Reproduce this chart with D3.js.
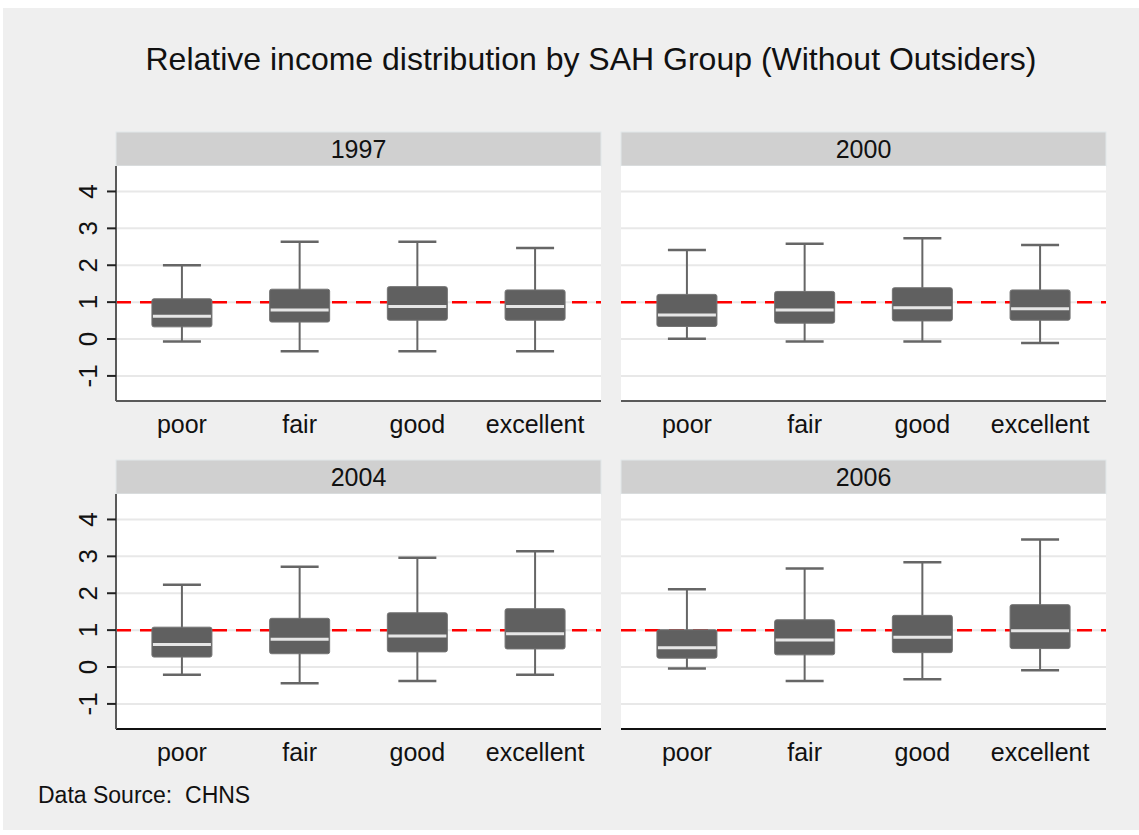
<!DOCTYPE html>
<html>
<head>
<meta charset="utf-8">
<script src="https://d3js.org/d3.v7.min.js"></script>
<style>
  body { margin: 0; background: #fff; }
  svg { display: block; font-family: "Liberation Sans", Arial, sans-serif; }
</style>
</head>
<body>
<svg id="chart" width="1139" height="835"></svg>
<script>
// panels and groups
const years = ["1997", "2000", "2004", "2006"];
const groups = ["poor", "fair", "good", "excellent"];

// box stats, one row per year, one value per group
const whiskerLow = [
  [-0.07, -0.33, -0.33, -0.33],
  [0.01, -0.07, -0.07, -0.11],
  [-0.21, -0.44, -0.38, -0.21],
  [-0.04, -0.38, -0.33, -0.09]
];
const q1 = [
  [0.33, 0.46, 0.51, 0.51],
  [0.34, 0.43, 0.49, 0.51],
  [0.27, 0.36, 0.41, 0.49],
  [0.24, 0.33, 0.39, 0.50]
];
const median = [
  [0.62, 0.79, 0.88, 0.88],
  [0.65, 0.79, 0.85, 0.82],
  [0.61, 0.75, 0.84, 0.90],
  [0.52, 0.73, 0.81, 0.98]
];
const q3 = [
  [1.09, 1.35, 1.42, 1.33],
  [1.21, 1.29, 1.39, 1.33],
  [1.08, 1.32, 1.47, 1.58],
  [1.01, 1.28, 1.40, 1.69]
];
const whiskerHigh = [
  [2.00, 2.64, 2.64, 2.47],
  [2.41, 2.58, 2.73, 2.55],
  [2.23, 2.72, 2.96, 3.14],
  [2.11, 2.67, 2.84, 3.46]
];
const yTicks = [-1, 0, 1, 2, 3, 4];
const refValue = 1;

const title = "Relative income distribution by SAH Group (Without Outsiders)";
const note = "Data Source:  CHNS";

// layout
const colX = [116, 621], panelW = 485;
const rowY = [132, 460], stripH = 34, plotH = 235;
const boxW = 60, capW = 38;

const svg = d3.select("#chart");

// outer grey background
svg.append("rect")
    .attr("x", 3).attr("y", 8)
    .attr("width", 1136).attr("height", 822)
    .attr("fill", "#efefef");

svg.append("text")
    .attr("x", 591).attr("y", 70)
    .attr("text-anchor", "middle")
    .attr("font-size", 32)
    .attr("fill", "#111")
    .text(title);

svg.append("text")
    .attr("x", 38).attr("y", 803)
    .attr("font-size", 23)
    .attr("fill", "#111")
    .style("white-space", "pre")
    .text(note);

const x = d3.scalePoint().domain(groups).range([0, panelW]).padding(0.56);
const y = d3.scaleLinear().domain([-1.68, 4.69]).range([plotH, 0]);

years.forEach(function(yr, i) {
    var col = i % 2, row = Math.floor(i / 2);
    var g = svg.append("g")
        .attr("transform", "translate(" + colX[col] + "," + rowY[row] + ")");

    // strip header
    g.append("rect")
        .attr("x", 0).attr("y", 0)
        .attr("width", panelW).attr("height", stripH)
        .attr("fill", "#d0d0d0")
        .attr("stroke", "#e2e8ea").attr("stroke-width", 1);
    g.append("text")
        .attr("x", panelW / 2).attr("y", stripH / 2 + 9)
        .attr("text-anchor", "middle")
        .attr("font-size", 25)
        .attr("fill", "#111")
        .text(yr);

    var p = g.append("g").attr("transform", "translate(0," + stripH + ")");
    p.append("rect")
        .attr("width", panelW).attr("height", plotH)
        .attr("fill", "#fff");

    // grid lines
    p.append("g").selectAll("line")
        .data(yTicks)
        .enter().append("line")
          .attr("x1", 0).attr("x2", panelW)
          .attr("y1", function(d) { return y(d); })
          .attr("y2", function(d) { return y(d); })
          .attr("stroke", "#e8e8e8")
          .attr("stroke-width", 2);

    // reference line at 1
    p.append("line")
        .attr("x1", 0).attr("x2", panelW)
        .attr("y1", y(refValue)).attr("y2", y(refValue))
        .attr("stroke", "#ff0000")
        .attr("stroke-width", 2.5)
        .attr("stroke-dasharray", "15,9");

    var stats = groups.map(function(gr, j) {
        return {g: gr, lo: whiskerLow[i][j], q1: q1[i][j], med: median[i][j],
                q3: q3[i][j], hi: whiskerHigh[i][j]};
    });

    var bx = p.append("g").selectAll("g")
        .data(stats)
        .enter().append("g")
          .attr("transform", function(d) { return "translate(" + x(d.g) + ",0)"; });

    // whiskers
    bx.append("line")
        .attr("x1", 0).attr("x2", 0)
        .attr("y1", function(d) { return y(d.hi); })
        .attr("y2", function(d) { return y(d.lo); })
        .attr("stroke", "#666").attr("stroke-width", 2);
    bx.append("line")
        .attr("x1", -capW / 2).attr("x2", capW / 2)
        .attr("y1", function(d) { return y(d.hi); })
        .attr("y2", function(d) { return y(d.hi); })
        .attr("stroke", "#666").attr("stroke-width", 2.5);
    bx.append("line")
        .attr("x1", -capW / 2).attr("x2", capW / 2)
        .attr("y1", function(d) { return y(d.lo); })
        .attr("y2", function(d) { return y(d.lo); })
        .attr("stroke", "#666").attr("stroke-width", 2.5);

    // boxes
    bx.append("rect")
        .attr("x", -boxW / 2).attr("width", boxW)
        .attr("y", function(d) { return y(d.q3); })
        .attr("height", function(d) { return y(d.q1) - y(d.q3); })
        .attr("rx", 2)
        .attr("fill", "#606060")
        .attr("stroke", "#737373").attr("stroke-width", 1);
    bx.append("line")
        .attr("x1", -boxW / 2 + 1).attr("x2", boxW / 2 - 1)
        .attr("y1", function(d) { return y(d.med); })
        .attr("y2", function(d) { return y(d.med); })
        .attr("stroke", "#e6e6e6").attr("stroke-width", 3);

    // x axis
    p.append("line")
        .attr("x1", 0).attr("x2", panelW)
        .attr("y1", plotH).attr("y2", plotH)
        .attr("stroke", row == 0 ? "#5a5a5a" : "#111")
        .attr("stroke-width", 2);
    p.append("g").selectAll("text")
        .data(groups)
        .enter().append("text")
          .attr("x", function(d) { return x(d); })
          .attr("y", plotH + 32)
          .attr("text-anchor", "middle")
          .attr("font-size", 25)
          .attr("fill", "#111")
          .text(function(d) { return d; });

    // y axis only on left column
    if (col == 0) {
        p.append("line")
            .attr("x1", 0).attr("x2", 0)
            .attr("y1", 0).attr("y2", plotH)
            .attr("stroke", "#5a5a5a").attr("stroke-width", 2);
        var yt = p.append("g").selectAll("g")
            .data(yTicks)
            .enter().append("g");
        yt.append("line")
            .attr("x1", -9).attr("x2", 0)
            .attr("y1", function(d) { return y(d); })
            .attr("y2", function(d) { return y(d); })
            .attr("stroke", "#222").attr("stroke-width", 2);
        yt.append("text")
            .attr("transform", function(d) { return "translate(-19," + y(d) + ") rotate(-90)"; })
            .attr("text-anchor", "middle")
            .attr("font-size", 26)
            .attr("fill", "#111")
            .text(function(d) { return d; });
    }
});
</script>
</body>
</html>
